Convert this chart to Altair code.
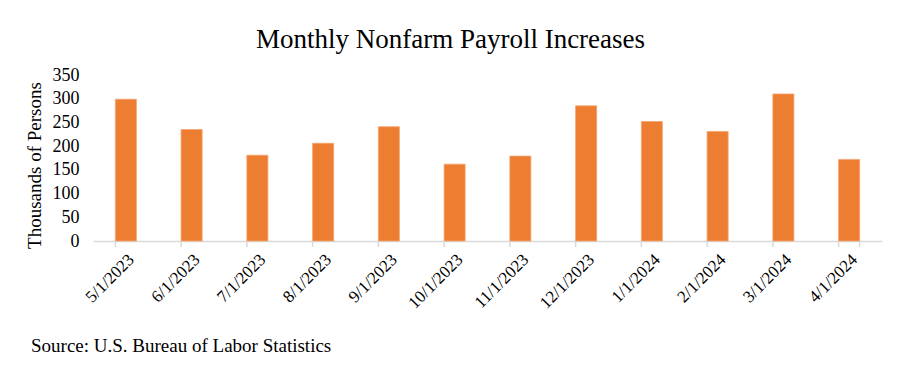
import altair as alt
import pandas as pd

months = ["5/1/2023", "6/1/2023", "7/1/2023", "8/1/2023", "9/1/2023", "10/1/2023",
          "11/1/2023", "12/1/2023", "1/1/2024", "2/1/2024", "3/1/2024", "4/1/2024"]
payrolls = [299, 235, 181, 206, 241, 162, 179, 285, 252, 231, 310, 172]

title_text = "Monthly Nonfarm Payroll Increases"
y_title = "Thousands of Persons"
source_text = "Source: U.S. Bureau of Labor Statistics"

df = pd.DataFrame({"month": months, "value": payrolls})
FONT = "Liberation Serif"
TICK = "#D9D9D9"

xscale = alt.Scale(paddingInner=0.68, paddingOuter=0.34)

bars = alt.Chart(df).mark_bar(color="#ED7D31", stroke="#F4A56E", strokeWidth=0.8).encode(
    x=alt.X("month:N", sort=months, title=None, scale=xscale,
            axis=alt.Axis(labelAngle=-45, labelFont=FONT, labelFontSize=17, labelColor="#000000",
                          domainColor=TICK, domainWidth=1.5, ticks=False, labelPadding=10)),
    y=alt.Y("value:Q", title=y_title,
            scale=alt.Scale(domain=[0, 350]),
            axis=alt.Axis(values=[0, 50, 100, 150, 200, 250, 300, 350], grid=False, domain=False,
                          ticks=False, labelFont=FONT, labelFontSize=18, labelColor="#000000",
                          labelPadding=14, titleFont=FONT, titleFontSize=19, titleFontWeight="normal",
                          titleColor="#000000", titlePadding=8, titleY=90)),
)

ticks_left = alt.Chart(df).mark_rule(color=TICK, strokeWidth=1.5).encode(
    x=alt.X("month:N", sort=months, bandPosition=0),
    y=alt.value(166), y2=alt.value(172),
)
ticks_end = alt.Chart(df.tail(1)).mark_rule(color=TICK, strokeWidth=1.5).encode(
    x=alt.X("month:N", sort=months, bandPosition=1),
    y=alt.value(166), y2=alt.value(172),
)

source = alt.Chart(alt.Data(values=[{}])).mark_text(
    font=FONT, fontSize=19, align="left", baseline="alphabetic", color="#000000"
).encode(x=alt.value(-62), y=alt.value(277), text=alt.value(source_text))

chart = alt.layer(bars, ticks_left, ticks_end, source).properties(
    width=789, height=166,
    title=alt.TitleParams(title_text, font=FONT, fontSize=27, fontWeight="normal", color="#000000",
                          anchor="middle", dx=-37, offset=12),
    autosize=alt.AutoSizeParams(type="none"),
    padding={"left": 85, "top": 67, "right": 10, "bottom": 132},
).configure_view(stroke=None)

chart.save("out.html", embed_options={"renderer": "svg", "actions": False})
